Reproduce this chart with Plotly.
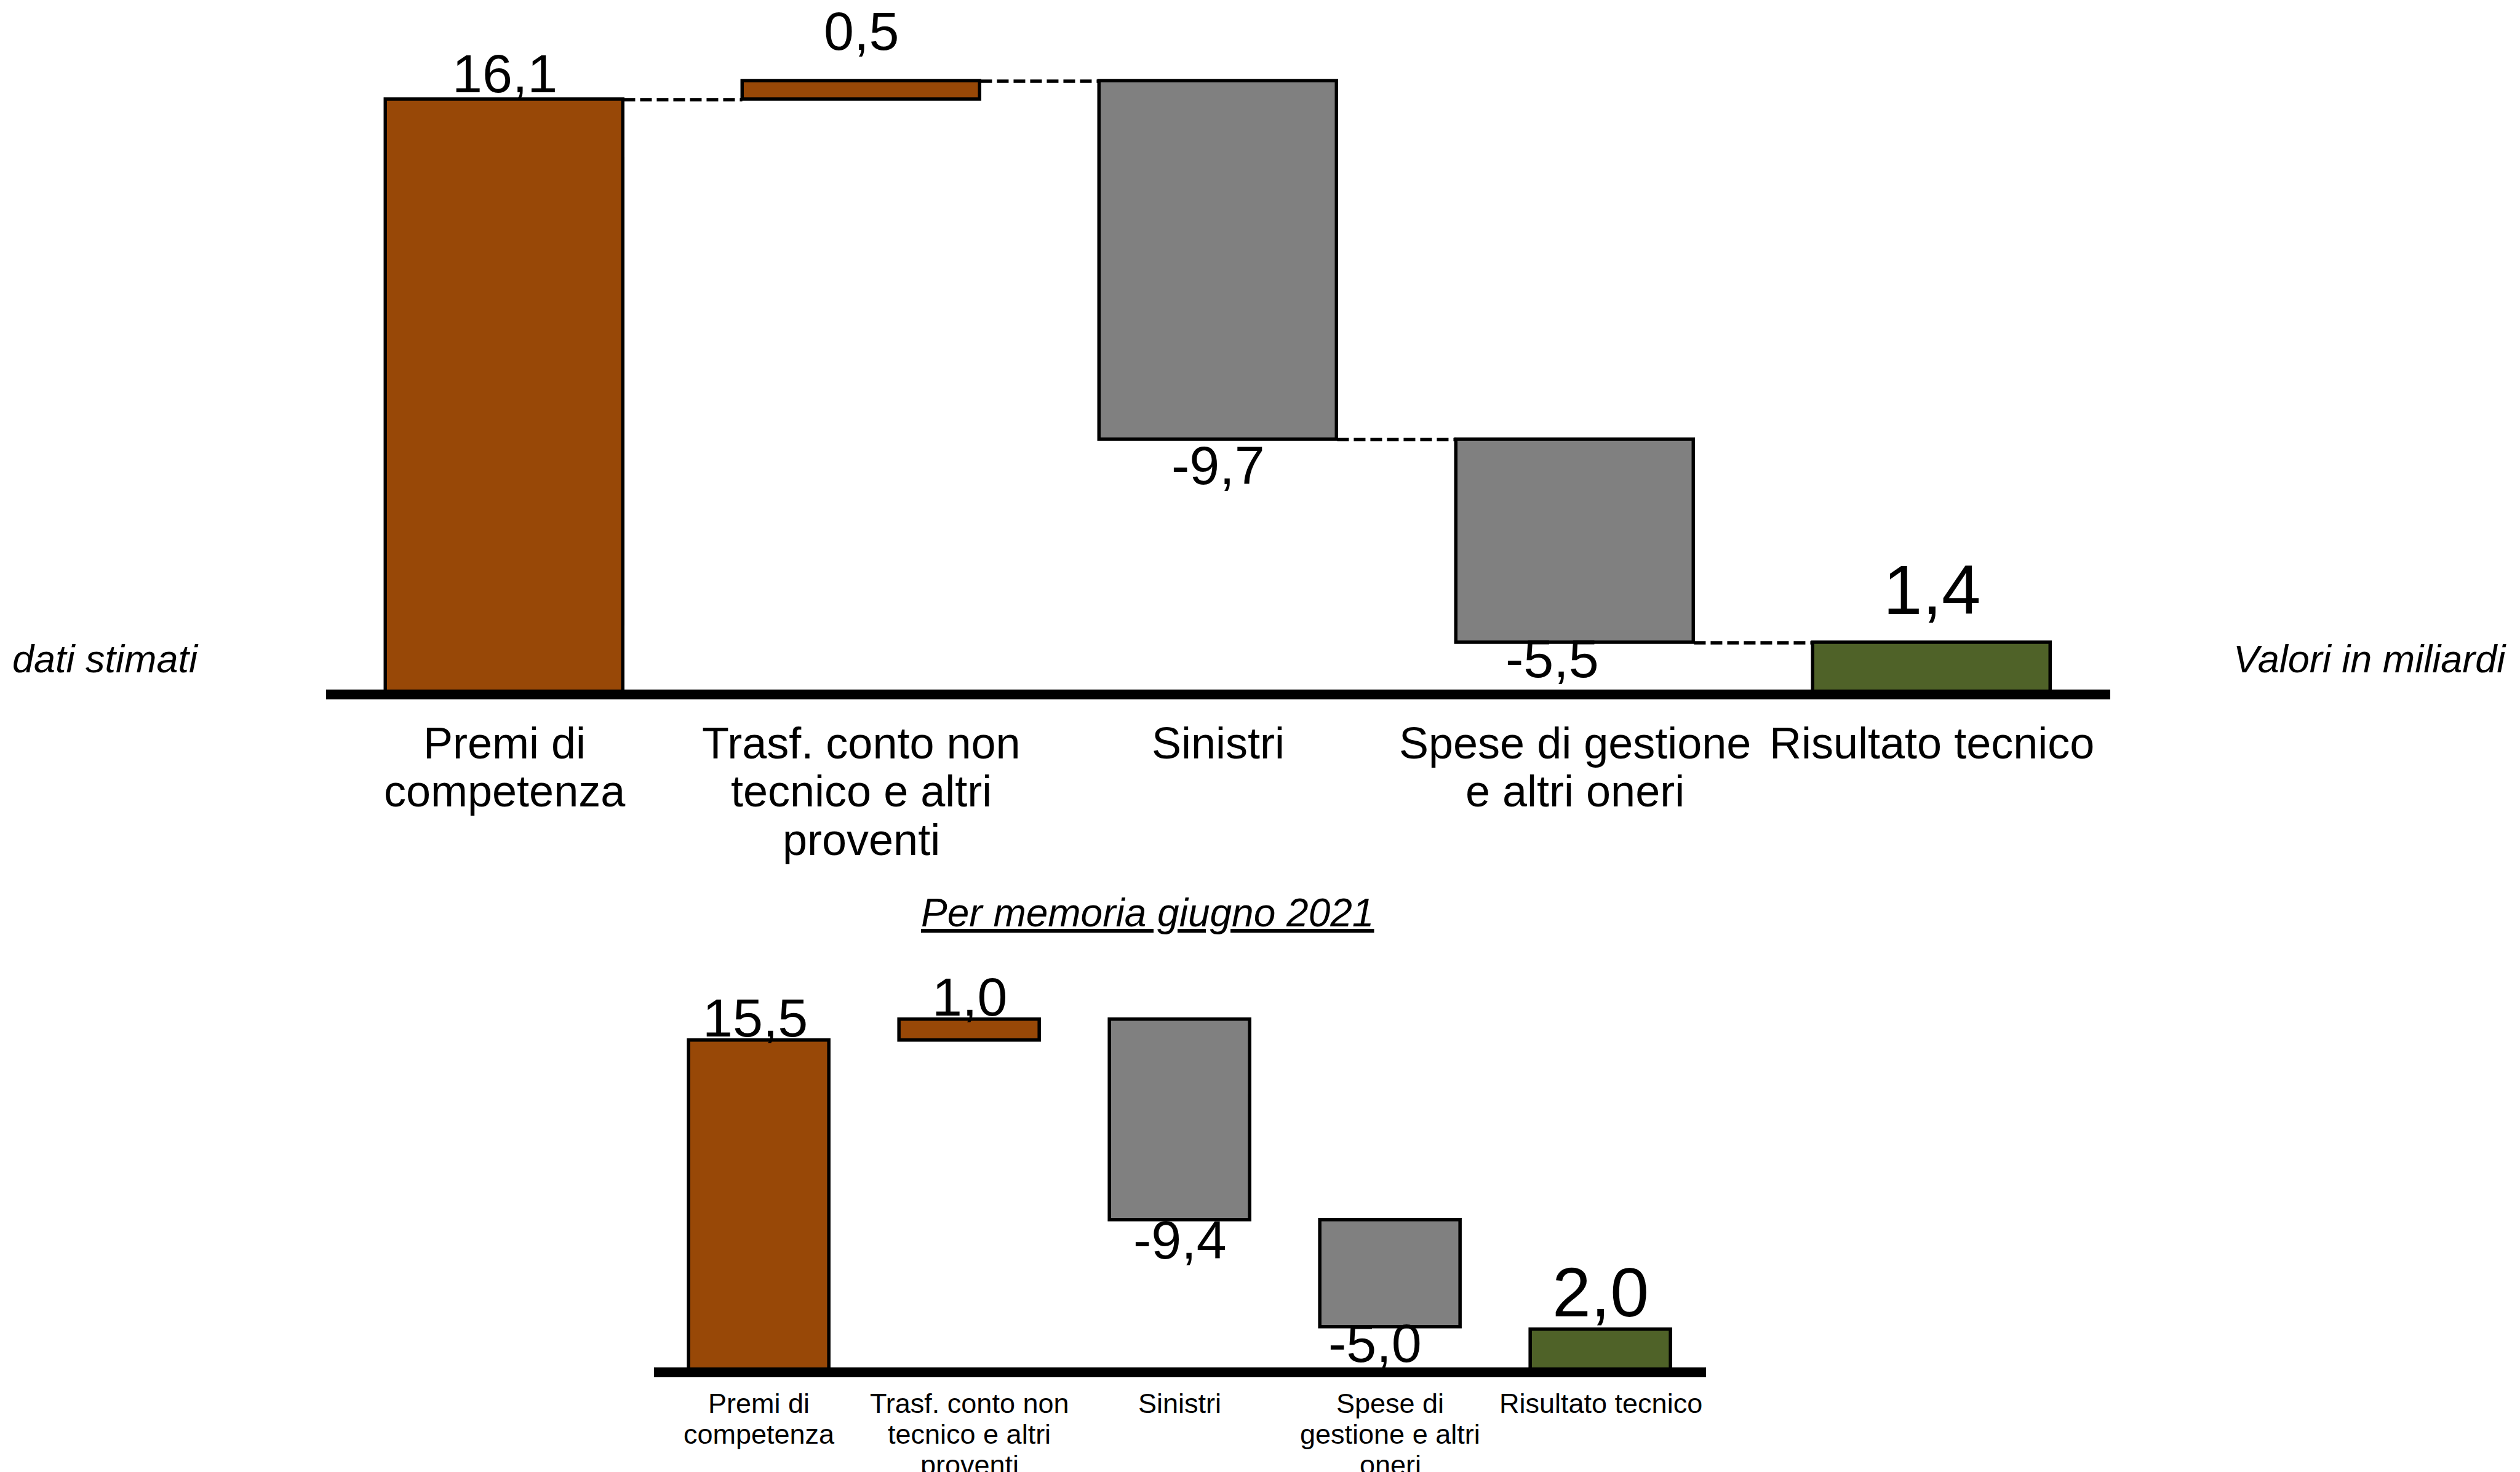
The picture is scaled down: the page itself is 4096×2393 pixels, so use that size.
import plotly.graph_objects as go

# ---------------- data ----------------
categories_top = ["Premi di<br>competenza", "Trasf. conto non<br>tecnico e altri<br>proventi",
                  "Sinistri", "Spese di gestione<br>e altri oneri", "Risultato tecnico"]
values_top = [16.1, 0.5, -9.7, -5.5, 1.4]
measures_top = ["absolute", "relative", "relative", "relative", "total"]

categories_bottom = ["Premi di<br>competenza", "Trasf. conto non<br>tecnico e altri<br>proventi",
                     "Sinistri", "Spese di<br>gestione e altri<br>oneri", "Risultato tecnico"]
values_bottom = [15.5, 1.0, -9.4, -5.0, 2.0]
measures_bottom = ["absolute", "relative", "relative", "relative", "total"]

title_bottom = "Per memoria giugno 2021"
note_left = "dati stimati"
note_right = "Valori in miliardi"

# ---------------- styles ----------------
FONT = "Liberation Sans, Arial, sans-serif"
bar_colors = ["#984807", "#984807", "#808080", "#808080", "#4F6228"]
BAR_W = 0.667
label_sizes_top = [88, 88, 88, 88, 114]
label_shift_top = [(0, 42), (0, 81), (0, -42), (-37, -26), (0, 86)]
label_sizes_bottom = [88, 88, 88, 88, 113]
label_shift_bottom = [(-6, 37), (0, 37), (0, -31), (-25, -26), (0, 60)]
cat_style_top = dict(size=72, first=79, step=78.5)
cat_style_bottom = dict(size=45, first=51, step=50)


def waterfall(values, measures):
    bases, heights, ends = [], [], []
    run = 0.0
    for v, m in zip(values, measures):
        if m == "relative":
            bases.append(run)
            run += v
        else:
            bases.append(0.0)
            run = v
        heights.append(v)
        ends.append(run)
    return bases, heights, ends


def fmt(v):
    return f"{v:.1f}".replace(".", ",")


fig = go.Figure()
annotations = []
shapes = []

for (cats, vals, meas, xa, ya, sizes, shifts, cstyle, connectors) in [
    (categories_top, values_top, measures_top, "x", "y", label_sizes_top, label_shift_top,
     cat_style_top, True),
    (categories_bottom, values_bottom, measures_bottom, "x2", "y2", label_sizes_bottom,
     label_shift_bottom, cat_style_bottom, False),
]:
    idx = list(range(len(cats)))
    bases, heights, ends = waterfall(vals, meas)
    fig.add_trace(go.Bar(
        x=idx, y=heights, base=bases, width=BAR_W,
        marker=dict(color=bar_colors, line=dict(color="black", width=5.5)),
        xaxis=xa, yaxis=ya, showlegend=False, hoverinfo="skip", cliponaxis=False,
    ))
    if connectors:
        cx, cy = [], []
        for i in range(len(idx) - 1):
            cx += [idx[i] + BAR_W / 2, idx[i + 1] - BAR_W / 2, None]
            cy += [ends[i], ends[i], None]
        fig.add_trace(go.Scatter(
            x=cx, y=cy, mode="lines",
            line=dict(color="black", width=5.5, dash="19px,8px"),
            xaxis=xa, yaxis=ya, showlegend=False, hoverinfo="skip",
        ))
    # thick zero line (category axis)
    shapes.append(dict(type="line", xref=f"{xa} domain", yref=ya, x0=0, x1=1, y0=0, y1=0,
                       line=dict(color="black", width=16), layer="above"))
    # value labels
    for i, v in enumerate(vals):
        annotations.append(dict(
            x=idx[i], y=bases[i] + heights[i], xref=xa, yref=ya,
            text=fmt(v), showarrow=False, yanchor="middle", xanchor="center",
            xshift=shifts[i][0], yshift=shifts[i][1],
            font=dict(family=FONT, size=sizes[i], color="black"),
        ))
    # category labels (one line each for tight line spacing)
    for i, c in enumerate(cats):
        for j, line in enumerate(c.split("<br>")):
            annotations.append(dict(
                x=idx[i], y=0, xref=xa, yref=ya, text=line, showarrow=False,
                xanchor="center", yanchor="middle",
                yshift=-(cstyle["first"] + j * cstyle["step"]),
                font=dict(family=FONT, size=cstyle["size"], color="black"),
            ))

annotations += [
    dict(x=0.4553, y=0.3797, xref="paper", yref="paper", text=f"<i><u>{title_bottom}</u></i>",
         showarrow=False, xanchor="center", yanchor="middle",
         font=dict(family=FONT, size=64, color="black")),
    dict(x=0.0045, y=0.5524, xref="paper", yref="paper", text=f"<i>{note_left}</i>",
         showarrow=False, xanchor="left", yanchor="middle",
         font=dict(family=FONT, size=63, color="black")),
    dict(x=0.995, y=0.5524, xref="paper", yref="paper", text=f"<i>{note_right}</i>",
         showarrow=False, xanchor="right", yanchor="middle",
         font=dict(family=FONT, size=63, color="black")),
]

axis_common = dict(showgrid=False, zeroline=False, ticks="", range=[-0.5, 4.5],
                   showline=False, fixedrange=True, showticklabels=False, automargin=False)

fig.update_layout(
    width=4096, height=2393, autosize=False,
    margin=dict(l=0, r=0, t=0, b=0, pad=0, autoexpand=False),
    paper_bgcolor="white", plot_bgcolor="white",
    font=dict(family=FONT, color="black"),
    bargap=0,
    xaxis=dict(**axis_common, domain=[0.1294, 0.8374], anchor="y"),
    yaxis=dict(domain=[0.5247, 0.9775], range=[-0.14, 17.9], visible=False, fixedrange=True,
               automargin=False),
    xaxis2=dict(**axis_common, domain=[0.0644, 0.3165], anchor="y2"),
    yaxis2=dict(domain=[0.0644, 0.3165], range=[-0.23, 17.12], visible=False, fixedrange=True,
                automargin=False),
    shapes=shapes,
    annotations=annotations,
)

fig.update_layout(xaxis2=dict(domain=[0.2595, 0.6770]))

fig.write_html("out.html", config={"displayModeBar": False},
               post_script="document.body.style.margin='0';document.body.style.overflow='hidden';")
